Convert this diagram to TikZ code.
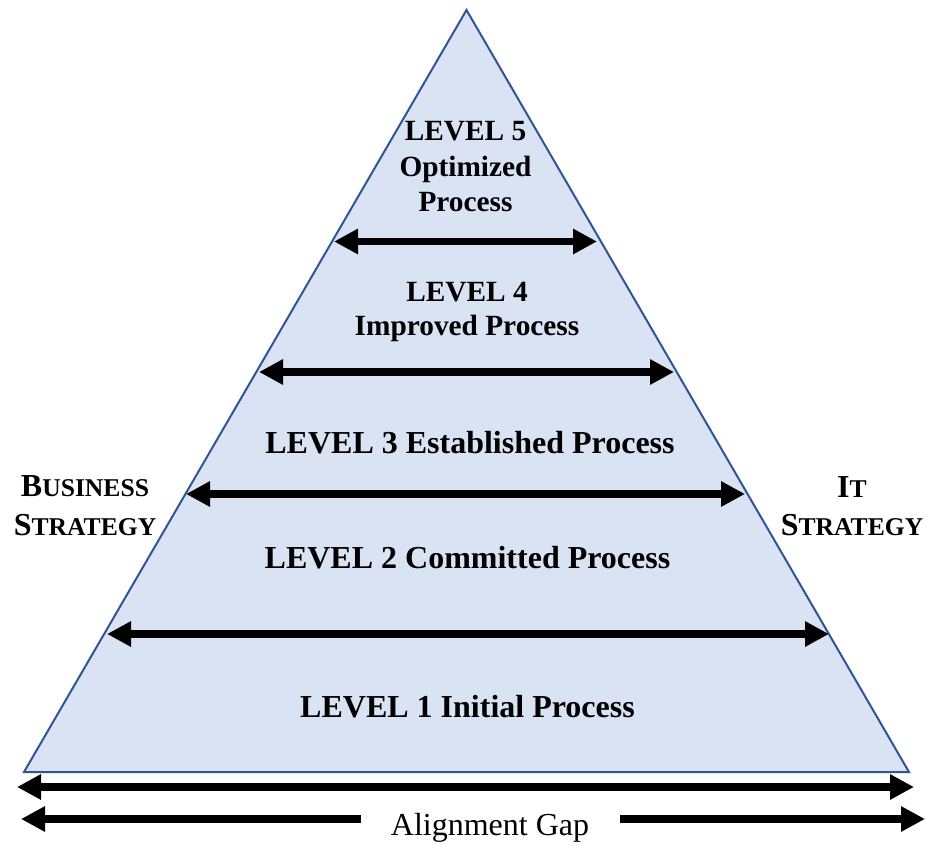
\documentclass[tikz,border=0pt]{standalone}
\usepackage{fontspec}
\setmainfont{Liberation Serif}
\usetikzlibrary{arrows.meta}
\definecolor{trifill}{HTML}{DAE3F3}
\definecolor{tridraw}{HTML}{2F5597}
\newcommand\smcfake[1]{{\fontsize{25.6}{30}\selectfont #1}}
\tikzset{
  tri/.style={fill=trifill, draw=tridraw, line width=2pt, line join=miter},
  lvl/.style={font=\fontsize{32}{36}\selectfont\bfseries, anchor=base, inner sep=0pt},
  lvlsm/.style={font=\fontsize{29.33}{33}\selectfont\bfseries, anchor=base, inner sep=0pt},
  side/.style={font=\fontsize{32}{36}\selectfont\bfseries, anchor=base, inner sep=0pt},
  gap/.style={font=\fontsize{32}{36}\selectfont, anchor=base, inner sep=0pt},
  dbl/.style={line width=7.5pt, {Triangle[length=24pt,width=24pt]}-{Triangle[length=24pt,width=24pt]}},
  lft/.style={line width=7.5pt, {Triangle[length=24pt,width=24pt]}-},
  rgt/.style={line width=7.5pt, -{Triangle[length=24pt,width=24pt]}}
}
\begin{document}
\begin{tikzpicture}[x=1pt,y=-1pt]
\useasboundingbox (0,0) rectangle (927,844);
% pyramid
\coordinate (apex) at (466.5,10);
\coordinate (br) at (909,772);
\coordinate (bl) at (24,772);
\draw[tri] (apex) -- (br) -- (bl) -- cycle;
% level separators
\coordinate (s5l) at (334,241.5);
\coordinate (s5r) at (597,241.5);
\coordinate (s4l) at (259,372);
\coordinate (s4r) at (674,372);
\coordinate (s3l) at (186,494);
\coordinate (s3r) at (745,494);
\coordinate (s2l) at (107,634);
\coordinate (s2r) at (829,634);
\draw[dbl] (s5l) -- (s5r);
\draw[dbl] (s4l) -- (s4r);
\draw[dbl] (s3l) -- (s3r);
\draw[dbl] (s2l) -- (s2r);
% level texts
\node[lvlsm] (l5a) at (465.5,140) {LEVEL 5};
\node[lvlsm] (l5b) at (465.5,176.5) {Optimized};
\node[lvlsm] (l5c) at (465.5,211) {Process};
\node[lvlsm] (l4a) at (467,301.5) {LEVEL 4};
\node[lvlsm] (l4b) at (467,335) {Improved Process};
\node[lvl] (l3) at (470,453.5) {LEVEL 3 Established Process};
\node[lvl] (l2) at (467.5,568) {LEVEL 2 Committed Process};
\node[lvl] (l1) at (467.5,717) {LEVEL 1 Initial Process};
% side labels
\node[side] (bs1) at (85,496) {B\smcfake{USINESS}};
\node[side] (bs2) at (85,535) {S\smcfake{TRATEGY}};
\node[side] (it1) at (852,497) {I\smcfake{T}};
\node[side] (it2) at (852,535) {S\smcfake{TRATEGY}};
% alignment gap
\coordinate (g1l) at (17,787);
\coordinate (g1r) at (914,787);
\draw[dbl] (g1l) -- (g1r);
\node[gap] (gap) at (490,835) {Alignment Gap};
\coordinate (g2l) at (21,819);
\coordinate (g2lm) at (361,819);
\coordinate (g2rm) at (620,819);
\coordinate (g2r) at (925,819);
\draw[lft] (g2l) -- (g2lm);
\draw[rgt] (g2rm) -- (g2r);
\end{tikzpicture}
\end{document}
